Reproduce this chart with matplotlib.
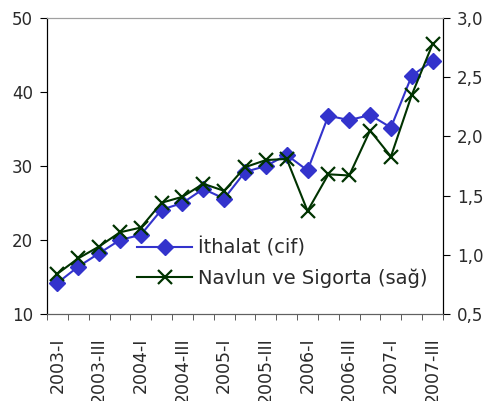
import matplotlib
matplotlib.use("Agg")
import matplotlib.pyplot as plt
import numpy as np

plt.rcParams['font.family'] = ['DejaVu Sans']
plt.rcParams['text.color'] = '#2a2a2a'
plt.rcParams['xtick.labelcolor'] = '#2a2a2a'
plt.rcParams['ytick.labelcolor'] = '#2a2a2a'

quarters = ["2003-I", "2003-II", "2003-III", "2003-IIII",
            "2004-I", "2004-II", "2004-III", "2004-IIII",
            "2005-I", "2005-II", "2005-III", "2005-IIII",
            "2006-I", "2006-II", "2006-III", "2006-IIII",
            "2007-I", "2007-II", "2007-III"]
ithalat = [14.2, 16.4, 18.2, 20.0, 20.7, 24.1, 25.0, 26.9, 25.6, 29.2,
           30.0, 31.5, 29.4, 36.8, 36.2, 36.9, 35.2, 42.2, 44.2]
navlun = [0.84, 0.97, 1.07, 1.19, 1.23, 1.44, 1.49, 1.60, 1.54, 1.74,
          1.80, 1.81, 1.37, 1.68, 1.67, 2.05, 1.83, 2.35, 2.78]
left_ticks = [10, 20, 30, 40, 50]
right_ticks = [0.5, 1.0, 1.5, 2.0, 2.5, 3.0]
right_labels = ["0,5", "1,0", "1,5", "2,0", "2,5", "3,0"]

fig = plt.figure(figsize=(4.87, 4.01), dpi=100)
ax = fig.add_axes([0.0965, 0.217, 0.8132, 0.738])
ax2 = ax.twinx()

x = np.arange(len(quarters))
blue = "#3333cc"
green = "#003300"

l1, = ax.plot(x, ithalat, color=blue, lw=1.5, marker="D", ms=8,
              mfc=blue, mec=blue, label="İthalat (cif)")
l2, = ax2.plot(x, navlun, color=green, lw=1.5, marker="x", ms=10,
               mew=1.6, label="Navlun ve Sigorta (sağ)")

ax.set_xlim(-0.5, len(quarters) - 0.5)
ax.set_ylim(10, 50)
ax2.set_ylim(0.5, 3.0)

ax.set_yticks(left_ticks)
ax.set_yticklabels([str(v) for v in left_ticks], fontsize=12)
ax2.set_yticks(right_ticks)
ax2.set_yticklabels(right_labels, fontsize=12)

# quarter labels on every other category; boundary ticks between categories
ax.set_xticks(x[::2])
ax.set_xticklabels(quarters[::2], rotation=90, fontsize=12.5)
ax.set_xticks(np.arange(-0.5, len(quarters)), minor=True)
ax.tick_params(axis="x", which="major", length=0, pad=17)
ax.tick_params(axis="x", which="minor", length=4, direction="out", color="#404040")
ax.tick_params(axis="y", length=5, direction="out", pad=5)
ax2.tick_params(axis="y", length=5, direction="out", pad=5)

for a in (ax, ax2):
    a.spines["top"].set_color("#a0a0a0")
    a.spines["bottom"].set_color("#606060")
    a.spines["left"].set_color("black")
    a.spines["right"].set_color("black")

leg = ax.legend(handles=[l1, l2], loc="upper left",
                bbox_to_anchor=(0.227, 0.258), frameon=False,
                fontsize=14, handlelength=2.85, labelspacing=0.55,
                handletextpad=0.28, borderpad=0, borderaxespad=0)

fig.savefig("out.png", dpi=100)
